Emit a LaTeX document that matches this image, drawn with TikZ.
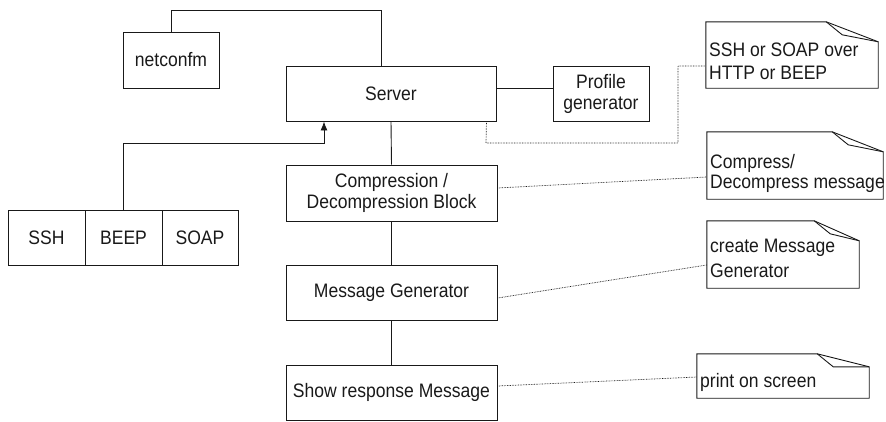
\documentclass[tikz,border=0pt]{standalone}
\usepackage{fontspec}
\setmainfont{Liberation Sans}[FakeStretch=0.9]
\usetikzlibrary{arrows.meta}

% note outline with a folded top-right corner: #1 node, #2 fold width, #3 fold depth
\newcommand{\drawnote}[3]{%
  \draw[notestroke] (#1.north west) -- ([xshift=-#2]#1.north east)
    -- ([yshift=-#3]#1.north east) -- (#1.south east) -- (#1.south west) -- cycle;
  \draw[notestroke] ([xshift=-#2]#1.north east) -- ++(16,13)
    -- ([yshift=-#3]#1.north east);
}

\begin{document}
\begin{tikzpicture}[x=1pt,y=-1pt,
  txt/.style={font=\fontsize{19.5}{21}\selectfont, text=black!90},
  box/.style={draw=black!90, line width=0.9pt, inner sep=0pt, align=center, txt},
  notearea/.style={draw=none, inner sep=0pt},
  notestroke/.style={draw=black!90, line width=0.9pt, line join=miter},
  notetext/.style={txt, inner sep=0pt, anchor=base west},
  link/.style={draw=black!90, line width=0.9pt},
  hint/.style={draw=black!90, line width=0.7pt, dash pattern=on 0.7pt off 0.9pt},
]
\useasboundingbox (0,0) rectangle (886,421);

% blocks
\node[box, minimum width=96, minimum height=56] (netconfm) at (171,60) {netconfm};
\node[box, minimum width=210, minimum height=55] (server) at (391,93.5) {Server};
\node[box, minimum width=96, minimum height=55] (profile) at (601,93.5) {Profile\\generator};
\node[box, minimum width=77, minimum height=55] (ssh) at (46.5,237.5) {SSH};
\node[box, minimum width=77, minimum height=55] (beep) at (123.5,237.5) {BEEP};
\node[box, minimum width=76, minimum height=55] (soap) at (200,237.5) {SOAP};
\node[box, minimum width=211, minimum height=56] (comp) at (391.5,193) {Compression /\\Decompression Block};
\node[box, minimum width=211, minimum height=55] (msg) at (391.5,292.5) {Message Generator};
\node[box, minimum width=211, minimum height=55] (show) at (391.5,392.5) {Show response Message};

% notes
\node[notearea, minimum width=172, minimum height=66] (note1) at (792,55) {};
\node[notearea, minimum width=176, minimum height=67] (note2) at (795,165.5) {};
\node[notearea, minimum width=152, minimum height=67] (note3) at (783,254.5) {};
\node[notearea, minimum width=172, minimum height=44] (note4) at (783,376) {};
\drawnote{note1}{52}{20}
\drawnote{note2}{51}{20}
\drawnote{note3}{45}{20}
\drawnote{note4}{52}{13}

\node[notetext] (note1a) at (709,56) {SSH or SOAP over};
\node[notetext] (note1b) at (709,79) {HTTP or BEEP};
\node[notetext] (note2a) at (710,168) {Compress/};
\node[notetext] (note2b) at (710,188) {Decompress message};
\node[notetext] (note3a) at (710,252) {create Message};
\node[notetext] (note3b) at (710,277) {Generator};
\node[notetext] (note4a) at (700,387) {print on screen};

% solid connectors
\draw[link] (netconfm.north) |- ++(0,-21) -| ([xshift=-10]server.north);
\draw[link] ([yshift=5.5]server.east) -- ([yshift=5.5]profile.west);
\draw[link] (server.south) -- (comp.north);
\draw[link] (comp.south) -- (msg.north);
\draw[link] (msg.south) -- (show.north);
\coordinate (bend) at (324,143);
\draw[link, -{Latex[length=9pt,width=7pt]}] (beep.north) |- (bend) -- (bend |- server.south);

% dotted note links
\coordinate (hintA) at (486,143);
\coordinate (hintB) at (678,66);
\draw[hint] ([xshift=-10]server.south east) -- (hintA) -| (hintB) -- ([yshift=-11]note1.west);
\draw[hint] ([yshift=5]comp.east) -- ([yshift=-11.5]note2.west);
\draw[hint] ([yshift=-5.5]msg.east) -- ([yshift=-10.5]note3.west);
\draw[hint] ([yshift=6.5]show.east) -- ([yshift=-1]note4.west);
\end{tikzpicture}
\end{document}
